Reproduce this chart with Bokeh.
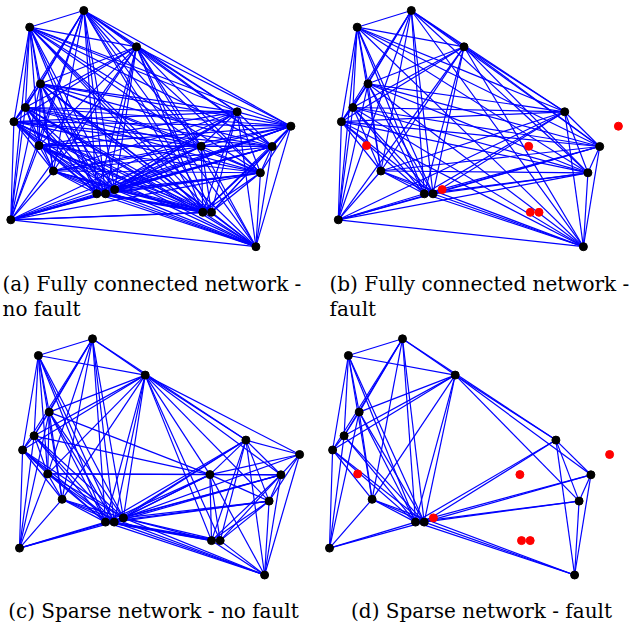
from itertools import combinations

from bokeh.plotting import figure
from bokeh.layouts import column, row
from bokeh.models import Range1d, ColumnDataSource, Label
from bokeh.embed import file_html
from bokeh.resources import INLINE

# Sensor node positions in the deployment field (y grows downward)
node_id = list(range(1, 21))
node_x = [83.3, 29.2, 136.0, 40.0, 24.9, 13.4, 38.5, 52.9, 96.3, 105.0,
          114.2, 10.3, 236.7, 290.4, 200.7, 271.7, 259.9, 202.3, 211.0, 255.4]
node_y = [10.0, 26.7, 46.3, 83.3, 107.0, 121.2, 145.1, 170.5, 193.3, 193.3,
          189.1, 219.3, 111.3, 125.7, 145.8, 146.0, 172.3, 211.8, 211.8, 246.2]

# Nodes that fail in the "fault" scenarios
faulty_nodes = [7, 11, 14, 15, 18, 19]

# Communication links of the sparse topology
sparse_links = [
    (1, 2), (1, 3), (1, 4), (1, 5), (1, 6), (1, 8), (1, 9), (1, 10), (1, 13),
    (2, 3), (2, 4), (2, 5), (2, 6), (2, 8), (2, 9), (2, 10),
    (3, 4), (3, 5), (3, 6), (3, 8), (3, 9), (3, 10), (3, 13), (3, 16), (3, 17),
    (4, 5), (4, 8), (4, 9), (4, 10), (4, 12),
    (5, 6), (5, 9), (5, 10), (5, 12),
    (6, 8), (6, 9), (6, 10), (6, 12),
    (8, 9), (8, 10), (8, 12), (8, 20),
    (9, 10), (9, 12), (9, 13), (9, 16), (9, 17), (9, 20),
    (10, 12), (10, 13), (10, 16), (10, 17), (10, 20),
    (13, 16), (13, 17), (13, 20),
    (16, 17), (16, 20), (17, 20),
    # links that involve the nodes which later fail
    (7, 1), (7, 2), (7, 3), (7, 4), (7, 5), (7, 6), (7, 8), (7, 9), (7, 10),
    (7, 11), (7, 12), (7, 15), (7, 16),
    (11, 1), (11, 2), (11, 3), (11, 4), (11, 5), (11, 6), (11, 8), (11, 12),
    (11, 13), (11, 14), (11, 15), (11, 16), (11, 17), (11, 18), (11, 19), (11, 20),
    (14, 3), (14, 13), (14, 15), (14, 16), (14, 17), (14, 20),
    (15, 3), (15, 4), (15, 5), (15, 9), (15, 10), (15, 13), (15, 16), (15, 17),
    (15, 18), (15, 19), (15, 20),
    (18, 3), (18, 9), (18, 10), (18, 13), (18, 16), (18, 17), (18, 19), (18, 20),
    (19, 3), (19, 9), (19, 10), (19, 13), (19, 16), (19, 17), (19, 20),
]

captions_a = ["(a) Fully connected network -", "no fault"]
captions_b = ["(b) Fully connected network -", "fault"]
captions_c = ["(c) Sparse network - no fault"]
captions_d = ["(d) Sparse network - fault"]

LINK_COLOR = "#0000ff"
CAPTION_FONT = "DejaVu Serif"
CAPTION_SIZE = "20px"

pos = {n: (x, y) for n, x, y in zip(node_id, node_x, node_y)}
healthy = [n for n in node_id if n not in faulty_nodes]

full_links = list(combinations(node_id, 2))


def alive_only(links):
    return [(a, b) for a, b in links if a in healthy and b in healthy]


def link_source(links):
    return ColumnDataSource(dict(
        x0=[pos[a][0] for a, b in links], y0=[pos[a][1] for a, b in links],
        x1=[pos[b][0] for a, b in links], y1=[pos[b][1] for a, b in links],
    ))


def node_source(ids):
    return ColumnDataSource(dict(x=[pos[n][0] for n in ids],
                                 y=[pos[n][1] for n in ids]))


def panel(width, height, left, top, ox, oy, links, show_fault,
          caption, cap_x, cap_y, cap_align):
    # ranges chosen so one field unit equals one pixel
    p = figure(width=width, height=height,
               x_range=Range1d(left - ox, left + width - ox),
               y_range=Range1d(top + height - oy, top - oy),
               output_backend="svg", toolbar_location=None,
               x_axis_type=None, y_axis_type=None, min_border=0)
    p.grid.visible = False
    p.outline_line_color = None
    p.background_fill_color = "white"
    p.border_fill_color = "white"

    p.segment("x0", "y0", "x1", "y1", source=link_source(links),
              line_color=LINK_COLOR, line_width=1.2)
    if show_fault:
        p.scatter("x", "y", source=node_source(healthy), size=8,
                  fill_color="black", line_color="black")
        p.scatter("x", "y", source=node_source(faulty_nodes), size=8,
                  fill_color="#ff0000", line_color="#ff0000")
    else:
        p.scatter("x", "y", source=node_source(node_id), size=8,
                  fill_color="black", line_color="black")

    for i, line in enumerate(caption):
        p.add_layout(Label(x=cap_x - ox, y=cap_y + 25 * i - oy, text=line,
                           text_font=CAPTION_FONT, text_font_size=CAPTION_SIZE,
                           text_color="black", text_baseline="middle",
                           text_align=cap_align))
    return p


fa = panel(327, 328, 0, 0, 0.0, 0.0, full_links, False,
           captions_a, 2, 283, "left")
fb = panel(304, 328, 327, 0, 327.5, 0.0, alive_only(full_links), True,
           captions_b, 329, 283, "left")
fc = panel(318, 296, 0, 328, 8.7, 328.3, sparse_links, False,
           captions_c, 153, 610, "center")
fd = panel(313, 296, 318, 328, 318.7, 328.3, alive_only(sparse_links), True,
           captions_d, 481, 610, "center")

layout = column(row(fa, fb, spacing=0), row(fc, fd, spacing=0), spacing=0)

open("out.html", "w").write(file_html(layout, INLINE))
